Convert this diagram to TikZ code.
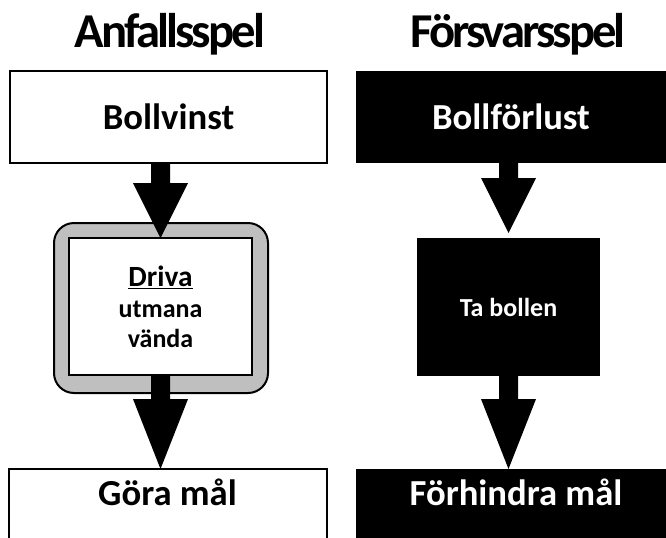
\documentclass[tikz,border=0pt]{standalone}
\usepackage{fontspec}
\setmainfont{Carlito}
\usetikzlibrary{calc}
\newcommand\blockarr[3]{%
  \fill[black] ($(#1)+(-9.5,0)$) -- ($(#2)+(-9.5,-#3)$) -- ($(#2)+(-27.5,-#3)$) -- (#2)
    -- ($(#2)+(27.5,-#3)$) -- ($(#2)+(9.5,-#3)$) -- ($(#1)+(9.5,0)$) -- cycle;}
\begin{document}
\begin{tikzpicture}[x=0.75pt,y=-0.75pt,
  every node/.style={outer sep=0pt, inner sep=0pt},
  bigfont/.style={font=\bfseries\fontsize{27.5}{31}\selectfont},
  wbox/.style={draw=black, line width=1.5pt, fill=white, bigfont},
  bbox/.style={fill=black, text=white, bigfont},
  heading/.style={anchor=base, font=\bfseries\fontsize{36.5}{40}\selectfont\addfontfeature{LetterSpace=-6}},
  lbl/.style={anchor=base, bigfont}]
\useasboundingbox (0,0) rectangle (666,537);
\clip (0,0) rectangle (666,537);
\fill[white] (0,0) rectangle (666,537);
% headings
\node[heading] (h1) at (170,47) {Anfallsspel};
\node[heading] (h2) at (518,47) {Försvarsspel};
% top boxes
\node[wbox, minimum width=237.75pt, minimum height=69pt] (bv) at (168.5,117) {Bollvinst};
\node[bbox, minimum width=232.5pt, minimum height=69pt] (bf) at (511,117) {Bollförlust};
% middle boxes
\node[draw=black, line width=1.5pt, fill=black!25, rounded corners=15pt,
      minimum width=160.5pt, minimum height=127.5pt] (frame) at (161,308) {};
\node[draw=black, line width=1.5pt, fill=white, align=center,
      font=\bfseries\fontsize{19.5}{22.5}\selectfont,
      minimum width=137.25pt, minimum height=102.75pt] (inner) at (160.5,306.5)
      {{\fontsize{22}{26}\selectfont\underline{Driva}}\\[1pt] utmana\\ vända};
\node[fill=black, text=white, font=\bfseries\fontsize{19.5}{22.5}\selectfont,
      minimum width=137.25pt, minimum height=103.5pt] (tb) at (508.5,307) {Ta bollen};
% bottom boxes
\node[wbox, minimum width=238.5pt, minimum height=68.25pt] (gm) at (168,514.5) {};
\node[bbox, minimum width=232.5pt, minimum height=68.25pt] (fm) at (511,514.5) {};
\node[lbl] (gmt) at (167.5,505) {Göra mål};
\node[lbl, text=white] (fmt) at (516,505) {Förhindra mål};
% arrows
\coordinate (a1s) at (inner.north |- bv.south);
\blockarr{a1s}{inner.north}{55}
\coordinate (a2t) at (inner.south |- gm.north);
\blockarr{inner.south}{a2t}{70}
\coordinate (a3s) at (tb.north |- bf.south);
\coordinate (a3t) at ($(tb.north)+(0,-5)$);
\blockarr{a3s}{a3t}{55}
\coordinate (a4t) at (tb.south |- fm.north);
\blockarr{tb.south}{a4t}{70}
\end{tikzpicture}
\end{document}
